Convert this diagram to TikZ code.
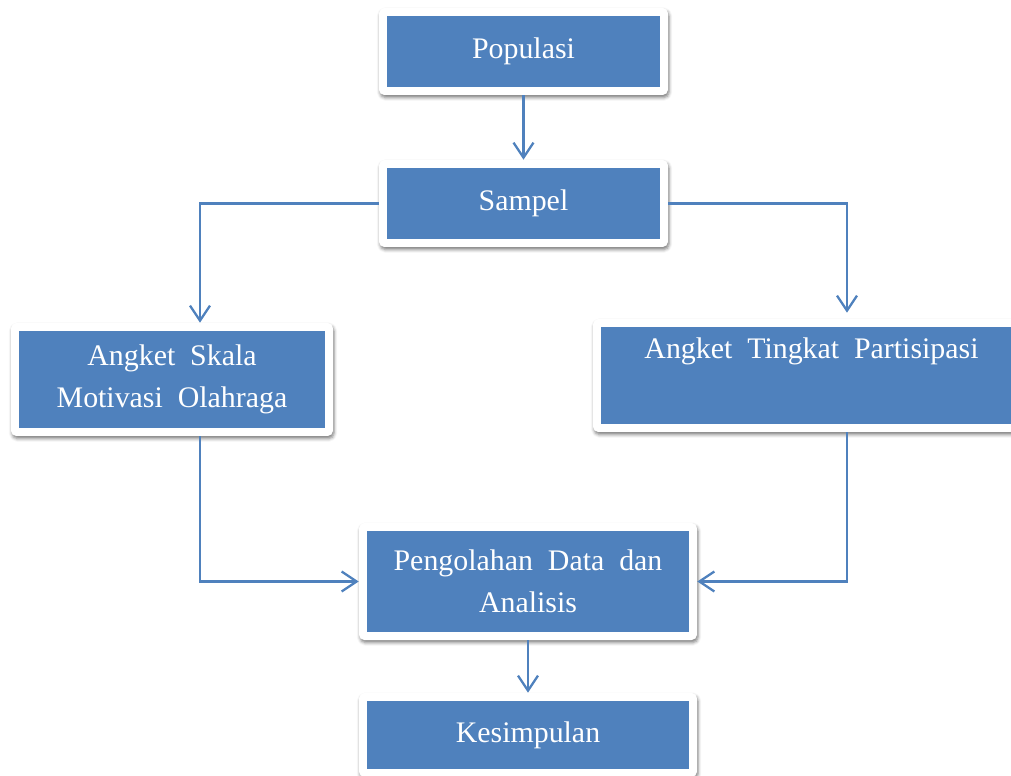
\documentclass[tikz,border=0pt]{standalone}
\usepackage{fontspec}
\setmainfont{Liberation Serif}
\usepackage{xcolor}
\usepackage{tikz}
\usetikzlibrary{arrows.meta, calc, shadows.blur}
\definecolor{birubox}{HTML}{4F81BD}
\newcommand{\spasilebar}{\spaceskip=0.5em plus 0.1em\relax}

\begin{document}
\begin{tikzpicture}[x=0.02cm, y=-0.02cm,
    blok/.style={fill=white, rounded corners=3pt, align=center, text=white,
        font=\fontsize{17}{24}\selectfont\spasilebar,
        blur shadow={shadow xshift=0.6pt, shadow yshift=-1.5pt, shadow blur radius=1.8pt, shadow opacity=50},
        path picture={\fill[birubox, sharp corners] ($(path picture bounding box.south west)+(0.16cm,0.16cm)$) rectangle ($(path picture bounding box.north east)-(0.16cm,0.16cm)$);}},
    panah/.style={draw=birubox, line width=1.3pt, -{Straight Barb[length=3mm, width=4mm]}}]
        \useasboundingbox (0,0) rectangle (1011,775);
        \node[blok, minimum width=5.78cm, minimum height=1.74cm] (populasi) at (523.5, 51.5) {Populasi};
        \node[blok, minimum width=5.78cm, minimum height=1.74cm] (sampel) at (523.5, 203.5) {Sampel};
        \node[blok, minimum width=6.44cm, minimum height=2.26cm] (skala) at (172, 379.5) {Angket Skala\\Motivasi Olahraga};
        \node[blok, minimum width=8.74cm, minimum height=2.26cm] (partisipasi) at (811.5, 375.5) {Angket Tingkat Partisipasi\\ \strut};
        \node[blok, minimum width=6.76cm, minimum height=2.34cm] (olahdata) at (528, 581.5) {Pengolahan Data dan\\Analisis};
        \node[blok, minimum width=6.76cm, minimum height=1.68cm] (kesimpulan) at (528, 735) {Kesimpulan};
        \draw[panah] (populasi) -- (sampel);
        \draw[panah] (sampel.west) -| ([xshift=0.56cm]skala.north);
        \draw[panah, shorten >=1.2mm] (sampel.east) -| ([xshift=0.71cm]partisipasi.north);
        \draw[panah] ([xshift=0.56cm]skala.south) |- (olahdata.west);
        \draw[panah] ([xshift=0.71cm]partisipasi.south) |- (olahdata.east);
        \draw[panah] (olahdata) -- (kesimpulan);
    \end{tikzpicture}
\end{document}
